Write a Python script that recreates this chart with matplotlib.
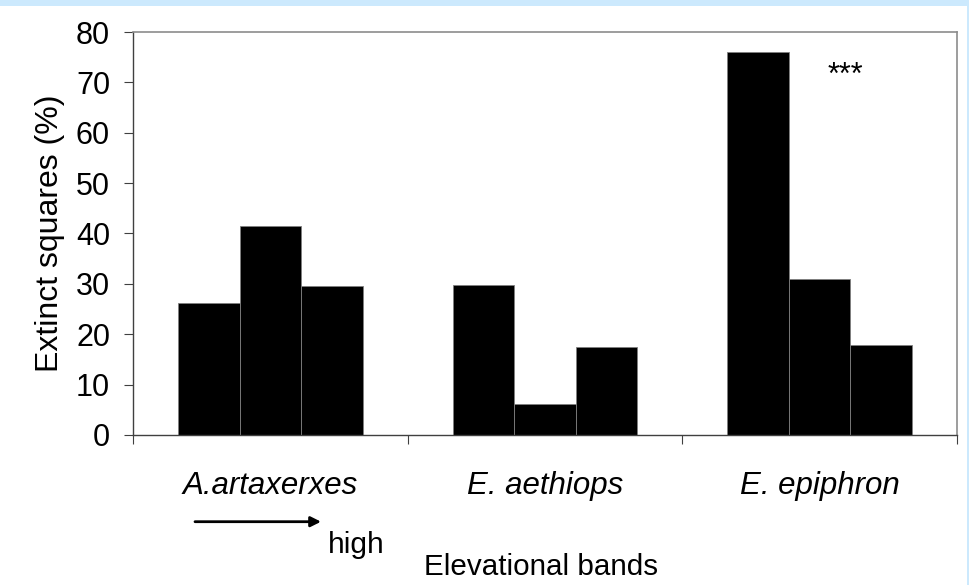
import numpy as np
import matplotlib
matplotlib.use('Agg')
import matplotlib.pyplot as plt
from matplotlib.patches import Rectangle

plt.rcParams['font.family'] = ['Liberation Sans', 'DejaVu Sans']

# extinct squares (%) per elevational band (low -> mid -> high)
species = ['A.artaxerxes', 'E. aethiops', 'E. epiphron']
low  = [26.2, 29.7, 76.1]
mid  = [41.5, 6.2, 31.0]
high = [29.6, 17.5, 17.9]
yticks = [0, 10, 20, 30, 40, 50, 60, 70, 80]

W, H = 969, 585
fig = plt.figure(figsize=(W/100, H/100), dpi=100)
fig.patch.set_facecolor('#cce9fd')
fig.patches.append(Rectangle((0, 0), 967/W, 579/H, transform=fig.transFigure,
                             facecolor='white', edgecolor='none', zorder=-10))

ax = fig.add_axes([133/W, 1 - 435/H, 824/W, 403/H])
ax.set_facecolor('white')

x = np.arange(len(species))
bw = 0.224
for off, vals in zip([-bw, 0, bw], [low, mid, high]):
    ax.bar(x + off, vals, width=bw, color='black', edgecolor='#808080', linewidth=0.6)

ax.set_xlim(-0.5, 2.5)
ax.set_ylim(0, 80)
ax.set_yticks(yticks)
ax.tick_params(axis='y', direction='out', length=6.5, width=0.8, color='#404040',
               labelsize=22, pad=10)

# boundaries between categories carry the ticks, names sit at the centres
ax.set_xticks(np.arange(-0.5, 3.0, 1.0))
ax.set_xticklabels([])
ax.tick_params(axis='x', which='major', direction='out', length=6.5, width=0.8, color='#404040')
ax.set_xticks(x, minor=True)
ax.set_xticklabels(species, minor=True, style='italic', fontsize=22.5)
ax.tick_params(axis='x', which='minor', length=0, pad=26)

for s in ['top', 'right']:
    ax.spines[s].set_color('#8c8c8c')
    ax.spines[s].set_linewidth(1.2)
for s in ['left', 'bottom']:
    ax.spines[s].set_color('#404040')
    ax.spines[s].set_linewidth(1.0)

ax.set_ylabel('Extinct squares (%)', fontsize=23)
ax.yaxis.set_label_coords(-0.083, 0.5)

ax.text(2.092, 69.7, '***', fontsize=22, ha='center', va='baseline')

# direction of the elevational bands
ax.annotate('', xy=(321/W, 1 - 521.7/H), xytext=(195/W, 1 - 521.7/H),
            xycoords='figure fraction', textcoords='figure fraction',
            arrowprops=dict(arrowstyle='-|>', lw=2, color='black',
                            mutation_scale=15, shrinkA=0, shrinkB=0))
fig.text(328/W, 1 - 552.7/H, 'high', fontsize=21.5, ha='left', va='baseline')
fig.text(541.5/W, 1 - 575/H, 'Elevational bands', fontsize=21.3, ha='center', va='baseline')

plt.savefig('out.png', dpi=100, facecolor=fig.get_facecolor())
